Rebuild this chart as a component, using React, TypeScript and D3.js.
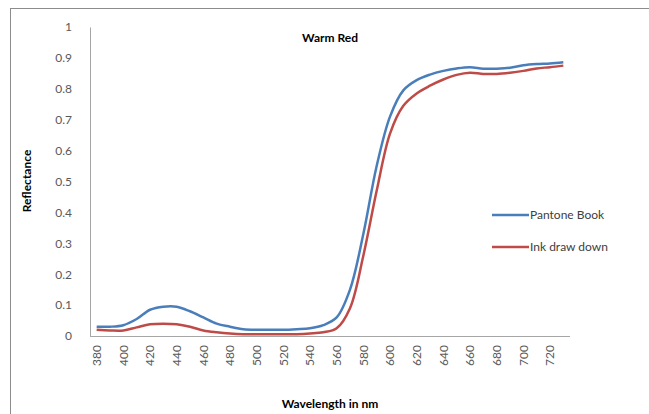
import React, { useEffect, useRef } from 'react'
import * as d3 from 'd3'

// wavelength categories, nm (every 10 nm)
const wavelengths = [
  380, 390, 400, 410, 420, 430, 440, 450, 460, 470, 480, 490, 500, 510, 520, 530, 540, 550,
  560, 570, 580, 590, 600, 610, 620, 630, 640, 650, 660, 670, 680, 690, 700, 710, 720, 730,
]

const pantoneBook = [
  0.03, 0.03, 0.035, 0.055, 0.085, 0.095, 0.095, 0.08, 0.06, 0.04, 0.03, 0.022, 0.02, 0.02, 0.02, 0.022, 0.025, 0.035,
  0.06, 0.15, 0.33, 0.55, 0.71, 0.795, 0.828, 0.846, 0.858, 0.866, 0.87, 0.865, 0.865, 0.868, 0.876, 0.88, 0.882, 0.886,
]

const inkDrawDown = [
  0.02, 0.018, 0.018, 0.028, 0.038, 0.04, 0.038, 0.03, 0.018, 0.012, 0.008, 0.006, 0.006, 0.006, 0.006, 0.006, 0.008, 0.012,
  0.025, 0.09, 0.26, 0.47, 0.655, 0.745, 0.785, 0.81, 0.83, 0.845, 0.852, 0.848, 0.848, 0.852, 0.858, 0.866, 0.87, 0.875,
]

const yTicks = [0, 0.1, 0.2, 0.3, 0.4, 0.5, 0.6, 0.7, 0.8, 0.9, 1]
const seriesNames = ['Pantone Book', 'Ink draw down']
const seriesColors = ['#4A7EBB', '#BE4B48']

const font = 'Lato, "Open Sans", sans-serif'

export default function App() {
  const ref = useRef<SVGSVGElement>(null)

  useEffect(() => {
    const svg = d3.select(ref.current)
    svg.selectAll('*').remove()

    const plot = { left: 90, right: 570, top: 27, bottom: 336 }

    // chart area frame
    svg.append('rect')
      .attr('x', 10.5).attr('y', 8.5)
      .attr('width', 660).attr('height', 420)
      .attr('fill', '#fff')
      .attr('stroke', '#8c8c8c')
      .attr('stroke-width', 1)

    const x = d3.scaleBand<number>()
      .domain(wavelengths)
      .range([plot.left, plot.right])
    const xc = (d: number) => (x(d) as number) + x.bandwidth() / 2

    const y = d3.scaleLinear().domain([0, 1]).range([plot.bottom, plot.top])

    // y axis
    const yAxis = svg.append('g')
      .attr('transform', 'translate(' + plot.left + ',0)')
      .call(d3.axisLeft(y).tickValues(yTicks).tickSize(0).tickPadding(18)
        .tickFormat(d => d3.format('')(+d)))
    yAxis.select('.domain').attr('stroke', '#a6a6a6')
    yAxis.selectAll('text')
      .attr('font-family', font).attr('font-size', 12).attr('fill', '#595959')

    // x axis
    const xAxis = svg.append('g')
      .attr('transform', 'translate(0,' + plot.bottom + ')')
      .call(d3.axisBottom(x).tickValues(wavelengths.filter(d => d % 20 === 0)).tickSize(0).tickPadding(0))
    xAxis.select('.domain').attr('stroke', '#a6a6a6').attr('d', 'M' + plot.left + ',0.5H' + plot.right)
    xAxis.selectAll('text')
      .attr('font-family', font).attr('font-size', 12).attr('fill', '#595959')
      .attr('transform', 'rotate(-90)')
      .attr('text-anchor', 'end')
      .attr('x', -9).attr('y', 0).attr('dy', '0.35em')

    const line = d3.line<number>()
      .x((_, i) => xc(wavelengths[i]))
      .y(d => y(d))
      .curve(d3.curveCatmullRom.alpha(0.5))

    ;[pantoneBook, inkDrawDown].forEach((vals, i) => {
      svg.append('path')
        .datum(vals)
        .attr('d', line)
        .attr('fill', 'none')
        .attr('stroke', seriesColors[i])
        .attr('stroke-width', 2.5)
        .attr('stroke-linejoin', 'round')
    })

    // title
    svg.append('text')
      .attr('x', 330).attr('y', 42)
      .attr('text-anchor', 'middle')
      .attr('font-family', font).attr('font-size', 12).attr('font-weight', 'bold')
      .attr('fill', '#000')
      .text('Warm  Red')

    // axis titles
    svg.append('text')
      .attr('transform', 'translate(31,181) rotate(-90)')
      .attr('text-anchor', 'middle')
      .attr('font-family', font).attr('font-size', 12).attr('font-weight', 'bold')
      .text('Reflectance')

    svg.append('text')
      .attr('x', 330).attr('y', 408)
      .attr('text-anchor', 'middle')
      .attr('font-family', font).attr('font-size', 12).attr('font-weight', 'bold')
      .text('Wavelength in nm')

    // legend
    const legend = svg.append('g')
    seriesNames.forEach((name, i) => {
      const ly = 215 + i * 32
      legend.append('line')
        .attr('x1', 492).attr('x2', 529)
        .attr('y1', ly).attr('y2', ly)
        .attr('stroke', seriesColors[i]).attr('stroke-width', 2.5)
      legend.append('text')
        .attr('x', 530).attr('y', ly).attr('dy', '0.35em')
        .attr('font-family', font).attr('font-size', 12).attr('fill', '#404040')
        .text(name)
    })
  }, [])

  return (
    <svg
      ref={ref}
      width={649}
      height={414}
      style={{ position: 'absolute', left: 0, top: 0, display: 'block', background: '#fff' }}
    />
  )
}
